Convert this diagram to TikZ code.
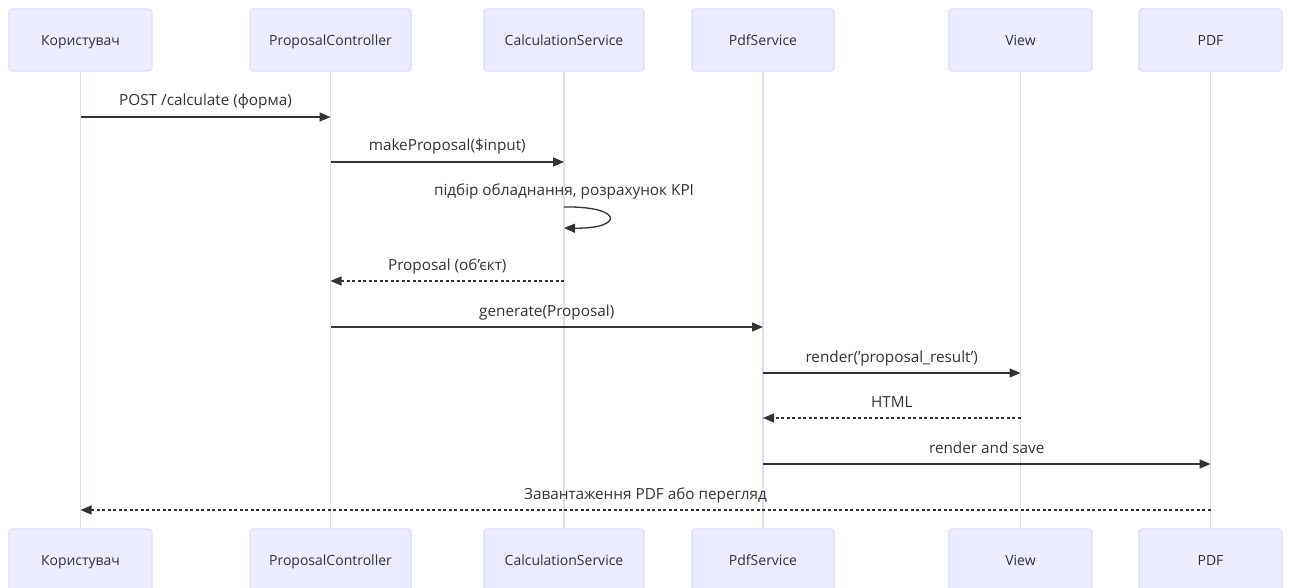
\documentclass[tikz,border=0pt]{standalone}
\usepackage{fontspec}
\setmainfont{Open Sans}
\usetikzlibrary{arrows.meta}
\definecolor{actfill}{HTML}{ECECFF}
\definecolor{actline}{HTML}{E2DCF8}
\definecolor{lifeln}{HTML}{E0DAF8}
\definecolor{ink}{HTML}{333333}
\tikzset{
  actor/.style={draw=actline, line width=1.2pt, fill=actfill, rounded corners=3pt,
    minimum height=62pt, text=ink, font=\fontsize{14}{16}\selectfont, inner sep=0pt,
    text height=11pt, text depth=0pt},
  lifeline/.style={draw=lifeln, line width=1.3pt},
  msg/.style={draw=ink, line width=1.3pt, -{Triangle[length=11pt,width=9pt]}},
  reply/.style={msg, dash pattern=on 3pt off 2.5pt},
  lbl/.style={text=ink, font=\fontsize{15.3}{17}\selectfont, inner sep=0pt, anchor=base},
  mlbl/.style={lbl, yshift=11pt}
}
\begin{document}
\begin{tikzpicture}[x=1pt,y=-1pt]
\useasboundingbox (0,0) rectangle (1289,588);
\fill[white] (0,0) rectangle (1289,588);
% lifeline centres
\foreach \n/\x in {u/80.5,pc/330.5,cs/564,ps/763,vw/1020.5,pdf/1210.5}
  \coordinate (\n) at (\x,0);
% lifelines
\foreach \n in {u,pc,cs,ps,vw,pdf}
  \draw[lifeline] (\n |- 0,71) -- (\n |- 0,529);
% actor boxes, top and bottom
\foreach \n/\w/\t in {u/143/Користувач,pc/161/ProposalController,cs/160/CalculationService,
                      ps/142/PdfService,vw/143/View,pdf/143/PDF}{
  \node[actor, minimum width=\w pt] (\n top) at (\n |- 0,40) {\t};
  \node[actor, minimum width=\w pt] (\n bot) at (\n |- 0,560) {\t};
}
% messages
\draw[msg] (u |- 0,117) -- node[mlbl]{POST /calculate (форма)} (pc |- 0,117);
\draw[msg] (pc |- 0,162) -- node[mlbl]{makeProposal(\$input)} (cs |- 0,162);
\node[lbl] (selflbl) at (cs |- 0,196) {підбір обладнання, розрахунок KPI};
\draw[msg] (cs |- 0,207) .. controls +(60,-1) and +(60,1) .. (cs |- 0,228);
\draw[reply] (cs |- 0,281) -- node[mlbl]{Proposal (об'єкт)} (pc |- 0,281);
\draw[msg] (pc |- 0,327) -- node[mlbl]{generate(Proposal)} (ps |- 0,327);
\draw[msg] (ps |- 0,373) -- node[mlbl]{render('proposal\_result')} (vw |- 0,373);
\draw[reply] (vw |- 0,418) -- node[mlbl]{HTML} (ps |- 0,418);
\draw[msg] (ps |- 0,464) -- node[mlbl]{render and save} (pdf |- 0,464);
\draw[reply] (pdf |- 0,510) -- node[mlbl]{Завантаження PDF або перегляд} (u |- 0,510);
\end{tikzpicture}
\end{document}
